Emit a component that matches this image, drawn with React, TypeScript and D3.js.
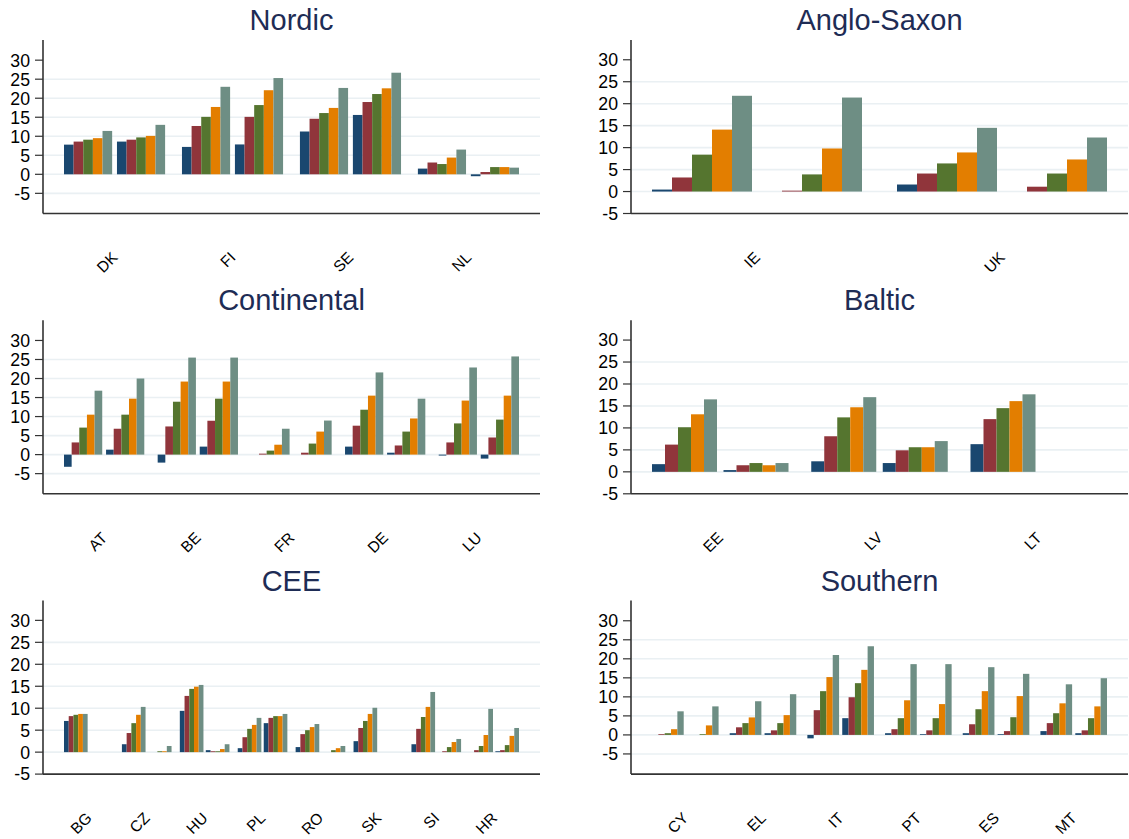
import React from 'react';
import * as d3 from 'd3';

// five series, drawn left to right inside every sub-group
const seriesColors = ['#1a476f', '#90353b', '#55752f', '#e37e00', '#6e8e84'];

const yTicks = [-5, 0, 5, 10, 15, 20, 25, 30];

// each country has two sub-groups of five bars; null = no bar
const nordicCountries = ['DK', 'FI', 'SE', 'NL'];
const nordicFirst = [
  [7.8, 8.6, 9.1, 9.5, 11.4],
  [7.2, 12.7, 15.1, 17.7, 23.0],
  [11.25, 14.6, 16.1, 17.45, 22.7],
  [1.5, 3.1, 2.7, 4.4, 6.5],
];
const nordicSecond = [
  [8.6, 9.1, 9.7, 10.1, 13.0],
  [7.85, 15.1, 18.2, 22.1, 25.3],
  [15.6, 19.0, 21.1, 22.6, 26.7],
  [-0.5, 0.6, 1.9, 1.9, 1.75],
];

const angloCountries = ['IE', 'UK'];
const angloFirst = [
  [0.45, 3.2, 8.4, 14.1, 21.8],
  [1.6, 4.1, 6.4, 8.9, 14.5],
];
const angloSecond = [
  [null, 0.2, 3.9, 9.8, 21.4],
  [null, 1.1, 4.1, 7.3, 12.3],
];

const contCountries = ['AT', 'BE', 'FR', 'DE', 'LU'];
const contFirst = [
  [-3.2, 3.2, 7.1, 10.5, 16.8],
  [-2.1, 7.4, 13.9, 19.2, 25.5],
  [null, 0.25, 1.05, 2.6, 6.8],
  [2.1, 7.6, 11.8, 15.5, 21.6],
  [-0.25, 3.2, 8.2, 14.2, 22.9],
];
const contSecond = [
  [1.3, 6.8, 10.5, 14.7, 20.0],
  [2.1, 8.9, 14.7, 19.2, 25.5],
  [null, 0.5, 2.9, 6.05, 8.95],
  [0.5, 2.4, 6.05, 9.5, 14.7],
  [-1.05, 4.5, 9.2, 15.5, 25.8],
];

const balticCountries = ['EE', 'LV', 'LT'];
const balticFirst = [
  [1.75, 6.2, 10.15, 13.1, 16.5],
  [2.4, 8.1, 12.4, 14.7, 17.0],
  [6.3, 12.0, 14.5, 16.1, 17.65],
];
const balticSecond = [
  [0.4, 1.5, 2.0, 1.5, 2.0],
  [2.0, 4.9, 5.6, 5.6, 7.0],
  [null, null, null, null, null],
];

const ceeCountries = ['BG', 'CZ', 'HU', 'PL', 'RO', 'SK', 'SI', 'HR'];
const ceeFirst = [
  [7.1, 8.2, 8.5, 8.7, 8.7],
  [1.8, 4.35, 6.6, 8.5, 10.3],
  [9.4, 12.8, 14.4, 14.9, 15.3],
  [0.9, 3.4, 5.3, 6.2, 7.8],
  [1.15, 4.1, 5.0, 5.7, 6.4],
  [2.5, 5.5, 7.1, 8.7, 10.1],
  [1.8, 5.3, 8.0, 10.3, 13.7],
  [null, 0.45, 1.4, 3.9, 9.85],
];
const ceeSecond = [
  [null, null, null, null, null],
  [null, null, 0.2, 0.2, 1.4],
  [0.45, 0.2, 0.2, 0.7, 1.8],
  [6.6, 7.8, 8.2, 8.2, 8.7],
  [null, null, 0.45, 0.9, 1.4],
  [null, null, null, null, null],
  [null, 0.2, 1.15, 2.3, 3.0],
  [0.2, 0.45, 1.6, 3.7, 5.5],
];

const southCountries = ['CY', 'EL', 'IT', 'PT', 'ES', 'MT'];
const southFirst = [
  [null, 0.2, 0.45, 1.5, 6.2],
  [0.45, 2.0, 3.1, 4.6, 8.85],
  [-0.9, 6.5, 11.5, 15.2, 21.0],
  [0.45, 1.5, 4.4, 9.1, 18.6],
  [0.45, 2.8, 6.75, 11.5, 17.8],
  [1.0, 3.1, 5.7, 8.3, 13.3],
];
const southSecond = [
  [null, null, 0.2, 2.5, 7.5],
  [0.45, 1.2, 3.1, 5.2, 10.7],
  [4.4, 9.9, 13.6, 17.1, 23.3],
  [0.2, 1.2, 4.4, 8.1, 18.6],
  [0.2, 1.0, 4.65, 10.2, 16.05],
  [0.45, 1.2, 4.4, 7.5, 14.9],
];

type Val = number | null;
interface Panel {
  title: string;
  countries: string[];
  first: Val[][];
  second: Val[][];
  domain: [number, number];
  row: number;
  col: number;
}

const wideRange: [number, number] = [-10.3, 35.3];
const tightRange: [number, number] = [-5, 34.5];

const panels: Panel[] = [
  { title: 'Nordic', countries: nordicCountries, first: nordicFirst, second: nordicSecond, domain: wideRange, row: 0, col: 0 },
  { title: 'Anglo-Saxon', countries: angloCountries, first: angloFirst, second: angloSecond, domain: tightRange, row: 0, col: 1 },
  { title: 'Continental', countries: contCountries, first: contFirst, second: contSecond, domain: wideRange, row: 1, col: 0 },
  { title: 'Baltic', countries: balticCountries, first: balticFirst, second: balticSecond, domain: tightRange, row: 1, col: 1 },
  { title: 'CEE', countries: ceeCountries, first: ceeFirst, second: ceeSecond, domain: tightRange, row: 2, col: 0 },
  { title: 'Southern', countries: southCountries, first: southFirst, second: southSecond, domain: wideRange, row: 2, col: 1 },
];

const W = 1129;
const H = 839;
const FONT = "'Liberation Sans', Arial, Helvetica, sans-serif";
const colX = [43, 631];
const plotW = 497;
const plotH = 173.5;
const rowStep = 280.3;
const inset = 21;

function BarPanel({ p }: { p: Panel }) {
  const x0 = colX[p.col];
  const top = 40 + p.row * rowStep;
  const bottom = top + plotH;

  const y = d3.scaleLinear().domain(p.domain).range([bottom, top]);

  // country bands, then the two sub-groups, then the five bars
  const country = d3.scaleBand<string>()
    .domain(p.countries)
    .range([x0 + inset, x0 + plotW - inset])
    .paddingInner(1.75 / 12.25)
    .paddingOuter(0);
  const sub = d3.scaleBand<number>()
    .domain([0, 1])
    .range([0, country.bandwidth()])
    .paddingInner(0.5 / 5.5)
    .paddingOuter(0);
  const bar = d3.scaleBand<number>()
    .domain([0, 1, 2, 3, 4])
    .range([0, sub.bandwidth()])
    .padding(0);

  const y0 = y(0);
  const grid = yTicks.filter(t => t < 30 && Math.abs(y(t) - bottom) > 2);

  return (
    <g>
      <text
        x={x0 + plotW / 2}
        y={top - 10}
        textAnchor="middle"
        fontFamily={FONT}
        fontSize={29}
        fill="#1e2c55"
      >
        {p.title}
      </text>

      {grid.map(t => (
        <line key={'g' + t} x1={x0} x2={x0 + plotW} y1={y(t)} y2={y(t)} stroke="#eaf0f3" strokeWidth={1.6} />
      ))}

      {p.countries.map((c, ci) =>
        [p.first[ci], p.second[ci]].map((vals, si) =>
          vals.map((v, bi) => {
            if (v === null) return null;
            const bx = (country(c) as number) + (sub(si) as number) + (bar(bi) as number);
            const yy = y(v);
            return (
              <rect
                key={`${c}-${si}-${bi}`}
                x={bx}
                y={Math.min(yy, y0)}
                width={bar.bandwidth()}
                height={Math.abs(yy - y0)}
                fill={seriesColors[bi]}
              />
            );
          })
        )
      )}

      <line x1={x0} x2={x0} y1={top} y2={bottom} stroke="#333" strokeWidth={1.6} />
      <line x1={x0} x2={x0 + plotW} y1={bottom} y2={bottom} stroke="#333" strokeWidth={1.6} />

      {yTicks.map(t => (
        <g key={'t' + t}>
          <line x1={x0 - 8} x2={x0} y1={y(t)} y2={y(t)} stroke="#333" strokeWidth={1.2} />
          <text
            x={x0 - 13}
            y={y(t)}
            dy="0.36em"
            textAnchor="end"
            fontFamily={FONT}
            fontSize={17.7}
            fill="#000"
          >
            {t}
          </text>
        </g>
      ))}

      {p.countries.map(c => {
        const cx = (country(c) as number) + country.bandwidth() / 2;
        const cy = bottom + 41;
        return (
          <text
            key={'l' + c}
            x={cx}
            y={cy}
            dy="0.36em"
            textAnchor="end"
            transform={`rotate(-45 ${cx} ${cy})`}
            fontFamily={FONT}
            fontSize={15.5}
            fill="#000"
          >
            {c}
          </text>
        );
      })}
    </g>
  );
}

export default function App() {
  return (
    <svg
      width={W}
      height={H}
      viewBox={`0 0 ${W} ${H}`}
      style={{ position: 'absolute', left: 0, top: 0, background: '#fff', display: 'block' }}
    >
      <rect width={W} height={H} fill="#fff" />
      {panels.map(p => (
        <BarPanel key={p.title} p={p} />
      ))}
    </svg>
  );
}
